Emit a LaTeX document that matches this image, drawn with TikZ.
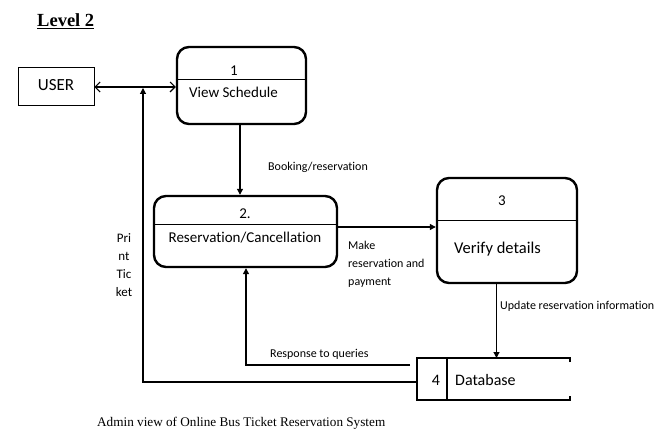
\documentclass[tikz,border=0pt]{standalone}
\usepackage{fontspec}
\setmainfont{Carlito}[Ligatures={NoCommon}]
\newfontfamily\serifnm{Liberation Serif}
\usetikzlibrary{arrows.meta}
\begin{document}
\begin{tikzpicture}[x=1pt,y=-1pt,
  proc/.style={draw,line width=2.4pt,rounded corners=12pt,inner sep=0},
  ent/.style={draw,line width=0.8pt,inner sep=0},
  conn/.style={line width=1.1pt},
  tip/.style={-{Triangle[length=6pt,width=6pt]}},
  lbl/.style={inner sep=0,anchor=west,font=\fontsize{12}{14}\selectfont},
  ptxt/.style={inner sep=0,font=\fontsize{15}{17}\selectfont}]
\useasboundingbox (0,0) rectangle (671,435);
% title
\node[inner sep=0,anchor=west,font=\serifnm\bfseries\fontsize{18.5}{20}\selectfont] (title) at (37,21) {\underline{Level 2}};
% entity
\node[ent,minimum width=76pt,minimum height=38pt] (user) at (56,86) {};
\node[ptxt,font=\fontsize{17}{19}\selectfont] (usert) at (56,85) {USER};
% process 1
\node[proc,minimum width=129pt,minimum height=77pt] (p1) at (241.5,85.5) {};
\draw[line width=0.8pt] (p1.west |- 0,79) -- (p1.east |- 0,79);
\node[ptxt] (p1n) at (234,71) {1};
\node[ptxt] (p1t) at (233.5,92) {View Schedule};
% process 2
\node[proc,minimum width=183pt,minimum height=71pt] (p2) at (245.5,231.5) {};
\draw[line width=0.8pt] (p2.west |- 0,224) -- (p2.east |- 0,224);
\node[ptxt] (p2n) at (245,214) {2.};
\node[ptxt] (p2t) at (245,238) {Reservation/Cancellation};
% process 3
\node[proc,minimum width=140pt,minimum height=105pt] (p3) at (507,230.5) {};
\draw[line width=0.8pt] (p3.west |- 0,220) -- (p3.east |- 0,220);
\node[ptxt] (p3n) at (502,201) {3};
\node[ptxt,font=\fontsize{16.5}{18}\selectfont] (p3t) at (497.5,249) {Verify details};
% data store
\coordinate (db) at (493.5,379);
\draw[line width=2.4pt] (570,362) -- (570,358) -- (417,358) -- (417,400) -- (570,400) -- (570,396);
\draw[line width=2.4pt] (447,358) -- (447,400);
\node[ptxt,font=\fontsize{16}{18}\selectfont] (dbn) at (436,380) {4};
\node[ptxt,anchor=west,font=\fontsize{16}{18}\selectfont] (dbt) at (455,380) {Database};
% connectors
\draw[conn,{Straight Barb[length=5pt,width=10pt]}-{Straight Barb[length=5pt,width=10pt]}] (user.east |- 0,87) -- (p1.west |- 0,87);
\draw[conn,tip] (p1.south -| 240,0) -- (p2.north -| 240,0);
\draw[conn,tip] ([yshift=4.5pt]p2.east) -- ([yshift=3.5pt]p3.west);
\draw[conn,tip] ([xshift=-10.5pt]p3.south) -- (496.5,358);
\coordinate (rq) at (410,365);
\draw[conn,tip] (rq) -| (p2.south -| 246,0);
\coordinate (pt) at (417,382);
\coordinate (pe) at (143,88);
\draw[conn,tip] (pt) -| (pe);
% labels
\node[lbl] (l1) at (268,167) {Booking/reservation};
\node[lbl,align=left,anchor=north west,font=\fontsize{12}{18}\selectfont] (l2) at (348,241) {Make\\reservation and\\payment};
\node[lbl] (l3) at (500,306) {Update reservation information};
\node[lbl] (l4) at (270,354) {Response to queries};
\node[lbl,align=center,anchor=north,font=\fontsize{13}{18}\selectfont] (l5) at (124,233) {Pri\\nt\\Tic\\ket};
% caption
\node[inner sep=0,anchor=west,font=\serifnm\fontsize{13.2}{15}\selectfont] (cap) at (97,423) {Admin view of Online Bus Ticket Reservation System};
\end{tikzpicture}
\end{document}
